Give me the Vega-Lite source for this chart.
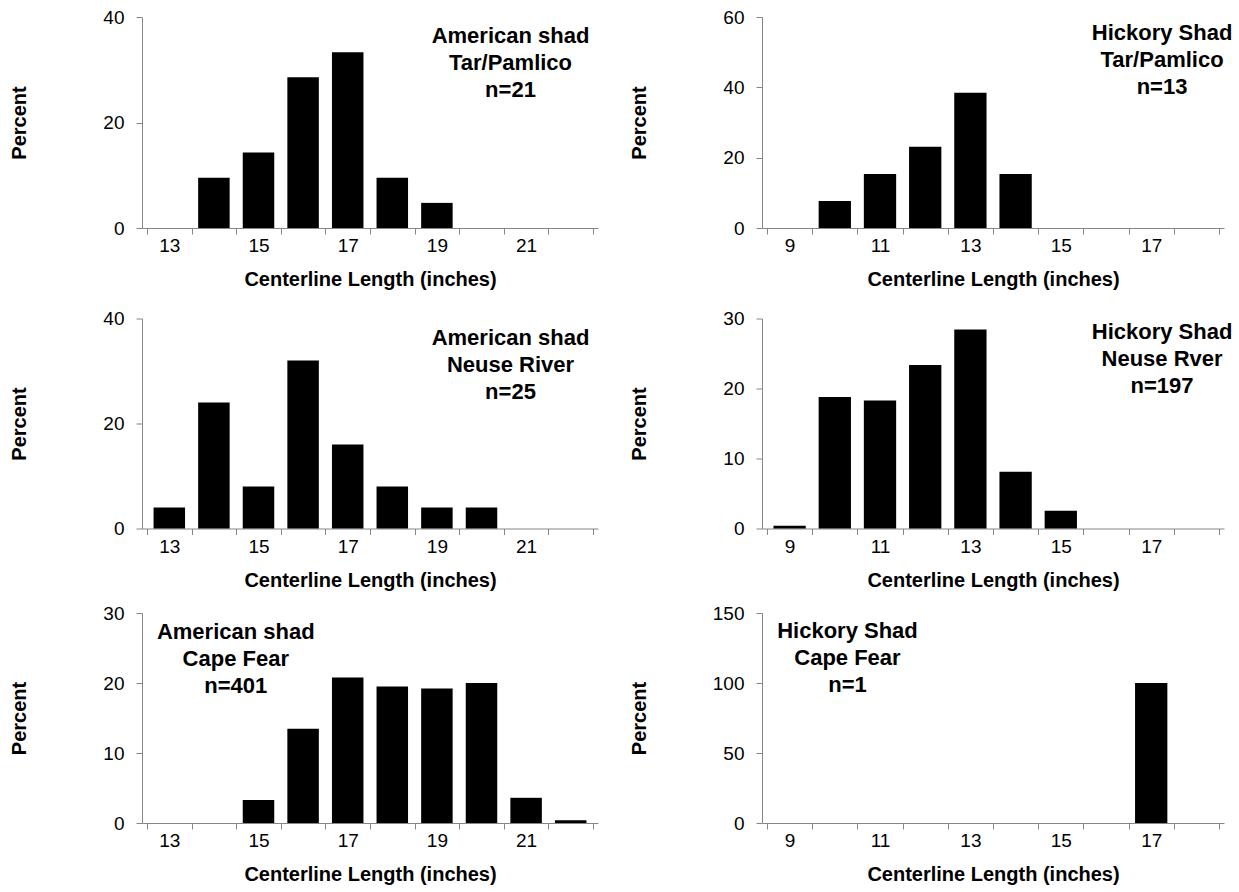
{
  "$schema": "https://vega.github.io/schema/vega-lite/v6.json",
  "padding": {"left": 9, "top": 8, "right": 5, "bottom": 5},
  "background": "white",
  "config": {
    "font": "Liberation Sans",
    "view": {"stroke": null},
    "axis": {
      "grid": false,
      "domainColor": "#868686",
      "tickColor": "#868686",
      "tickSize": 6,
      "labelFont": "Liberation Sans",
      "labelFontSize": 19,
      "labelColor": "#000000",
      "titleFont": "Liberation Sans",
      "titleFontSize": 20,
      "titleFontWeight": "bold",
      "titleColor": "#000000"
    },
    "axisY": {"labelPadding": 12},
    "axisX": {"labelPadding": 2.5, "titlePadding": 14, "tickCount": 40, "labelOverlap": false, "labelFlush": false, "labelBound": false}
  },
  "datasets": {
    "am_tar": [
      {"len": 13, "pct": 0}, {"len": 14, "pct": 9.52}, {"len": 15, "pct": 14.29}, {"len": 16, "pct": 28.57},
      {"len": 17, "pct": 33.33}, {"len": 18, "pct": 9.52}, {"len": 19, "pct": 4.76}, {"len": 20, "pct": 0},
      {"len": 21, "pct": 0}, {"len": 22, "pct": 0}
    ],
    "hk_tar": [
      {"len": 9, "pct": 0}, {"len": 10, "pct": 7.69}, {"len": 11, "pct": 15.38}, {"len": 12, "pct": 23.08},
      {"len": 13, "pct": 38.46}, {"len": 14, "pct": 15.38}, {"len": 15, "pct": 0}, {"len": 16, "pct": 0},
      {"len": 17, "pct": 0}, {"len": 18, "pct": 0}
    ],
    "am_neu": [
      {"len": 13, "pct": 4}, {"len": 14, "pct": 24}, {"len": 15, "pct": 8}, {"len": 16, "pct": 32},
      {"len": 17, "pct": 16}, {"len": 18, "pct": 8}, {"len": 19, "pct": 4}, {"len": 20, "pct": 4},
      {"len": 21, "pct": 0}, {"len": 22, "pct": 0}
    ],
    "hk_neu": [
      {"len": 9, "pct": 0.4}, {"len": 10, "pct": 18.78}, {"len": 11, "pct": 18.27}, {"len": 12, "pct": 23.35},
      {"len": 13, "pct": 28.43}, {"len": 14, "pct": 8.12}, {"len": 15, "pct": 2.54}, {"len": 16, "pct": 0},
      {"len": 17, "pct": 0}, {"len": 18, "pct": 0}
    ],
    "am_cape": [
      {"len": 13, "pct": 0}, {"len": 14, "pct": 0}, {"len": 15, "pct": 3.3}, {"len": 16, "pct": 13.47},
      {"len": 17, "pct": 20.8}, {"len": 18, "pct": 19.5}, {"len": 19, "pct": 19.2}, {"len": 20, "pct": 20.0},
      {"len": 21, "pct": 3.6}, {"len": 22, "pct": 0.4}
    ],
    "hk_cape": [
      {"len": 9, "pct": 0}, {"len": 10, "pct": 0}, {"len": 11, "pct": 0}, {"len": 12, "pct": 0},
      {"len": 13, "pct": 0}, {"len": 14, "pct": 0}, {"len": 15, "pct": 0}, {"len": 16, "pct": 0},
      {"len": 17, "pct": 100}, {"len": 18, "pct": 0}
    ]
  },
  "vconcat": [
    {
      "hconcat": [
        {
          "width": 456, "height": 211,
          "layer": [
            {
              "data": {"name": "am_tar"},
              "mark": {"type": "bar", "color": "#000000", "width": 31.5},
              "encoding": {
                "x": {"field": "len", "type": "quantitative",
                  "scale": {"domain": [12.5, 22.5], "nice": false, "zero": false},
                  "axis": {"values": [12.5,13,13.5,14,14.5,15,15.5,16,16.5,17,17.5,18,18.5,19,19.5,20,20.5,21,21.5,22,22.5],
                    "title": "Centerline Length (inches)",
                    "labelExpr": "abs(datum.value % 2 - 1) < 0.01 ? format(datum.value, 'd') : ''",
                    "tickOpacity": {"condition": {"test": "datum.value % 1 !== 0", "value": 1}, "value": 0}}},
                "y": {"field": "pct", "type": "quantitative",
                  "scale": {"domain": [0, 40], "nice": false},
                  "axis": {"values": [0, 20, 40], "title": "Percent", "titlePadding": 73.5}}
              }
            },
            {
              "data": {"values": [{"t": ["American shad", "Tar/Pamlico", "n=21"]}]},
              "mark": {"type": "text", "font": "Liberation Sans", "fontSize": 22, "fontWeight": "bold", "align": "center", "baseline": "top", "lineHeight": 27, "color": "#000000"},
              "encoding": {"x": {"datum": 20.65}, "y": {"datum": 38.2}, "text": {"field": "t"}}
            }
          ]
        },
        {
          "width": 462, "height": 211,
          "layer": [
            {
              "data": {"name": "hk_tar"},
              "mark": {"type": "bar", "color": "#000000", "width": 32.3},
              "encoding": {
                "x": {"field": "len", "type": "quantitative",
                  "scale": {"domain": [8.5, 18.5], "nice": false, "zero": false},
                  "axis": {"values": [8.5,9,9.5,10,10.5,11,11.5,12,12.5,13,13.5,14,14.5,15,15.5,16,16.5,17,17.5,18,18.5],
                    "title": "Centerline Length (inches)",
                    "labelExpr": "abs(datum.value % 2 - 1) < 0.01 ? format(datum.value, 'd') : ''",
                    "tickOpacity": {"condition": {"test": "datum.value % 1 !== 0", "value": 1}, "value": 0}}},
                "y": {"field": "pct", "type": "quantitative",
                  "scale": {"domain": [0, 60], "nice": false},
                  "axis": {"values": [0, 20, 40, 60], "title": "Percent", "titlePadding": 73.5}}
              }
            },
            {
              "data": {"values": [{"t": ["Hickory Shad", "Tar/Pamlico", "n=13"]}]},
              "mark": {"type": "text", "font": "Liberation Sans", "fontSize": 22, "fontWeight": "bold", "align": "center", "baseline": "top", "lineHeight": 27, "color": "#000000"},
              "encoding": {"x": {"datum": 17.24}, "y": {"datum": 58.4}, "text": {"field": "t"}}
            }
          ]
        }
      ],
      "spacing": 31
    },
    {
      "vconcat": [
        {
          "hconcat": [
            {
              "width": 456, "height": 210,
              "layer": [
                {
                  "data": {"name": "am_neu"},
                  "mark": {"type": "bar", "color": "#000000", "width": 31.5},
                  "encoding": {
                    "x": {"field": "len", "type": "quantitative",
                      "scale": {"domain": [12.5, 22.5], "nice": false, "zero": false},
                      "axis": {"values": [12.5,13,13.5,14,14.5,15,15.5,16,16.5,17,17.5,18,18.5,19,19.5,20,20.5,21,21.5,22,22.5],
                        "title": "Centerline Length (inches)",
                        "labelExpr": "abs(datum.value % 2 - 1) < 0.01 ? format(datum.value, 'd') : ''",
                        "tickOpacity": {"condition": {"test": "datum.value % 1 !== 0", "value": 1}, "value": 0}}},
                    "y": {"field": "pct", "type": "quantitative",
                      "scale": {"domain": [0, 40], "nice": false},
                      "axis": {"values": [0, 20, 40], "title": "Percent", "titlePadding": 73.5}}
                  }
                },
                {
                  "data": {"values": [{"t": ["American shad", "Neuse River", "n=25"]}]},
                  "mark": {"type": "text", "font": "Liberation Sans", "fontSize": 22, "fontWeight": "bold", "align": "center", "baseline": "top", "lineHeight": 27, "color": "#000000"},
                  "encoding": {"x": {"datum": 20.65}, "y": {"datum": 38.2}, "text": {"field": "t"}}
                }
              ]
            },
            {
              "width": 462, "height": 210,
              "layer": [
                {
                  "data": {"name": "hk_neu"},
                  "mark": {"type": "bar", "color": "#000000", "width": 32.3},
                  "encoding": {
                    "x": {"field": "len", "type": "quantitative",
                      "scale": {"domain": [8.5, 18.5], "nice": false, "zero": false},
                      "axis": {"values": [8.5,9,9.5,10,10.5,11,11.5,12,12.5,13,13.5,14,14.5,15,15.5,16,16.5,17,17.5,18,18.5],
                        "title": "Centerline Length (inches)",
                        "labelExpr": "abs(datum.value % 2 - 1) < 0.01 ? format(datum.value, 'd') : ''",
                        "tickOpacity": {"condition": {"test": "datum.value % 1 !== 0", "value": 1}, "value": 0}}},
                    "y": {"field": "pct", "type": "quantitative",
                      "scale": {"domain": [0, 30], "nice": false},
                      "axis": {"values": [0, 10, 20, 30], "title": "Percent", "titlePadding": 73.5}}
                  }
                },
                {
                  "data": {"values": [{"t": ["Hickory Shad", "Neuse Rver", "n=197"]}]},
                  "mark": {"type": "text", "font": "Liberation Sans", "fontSize": 22, "fontWeight": "bold", "align": "center", "baseline": "top", "lineHeight": 27, "color": "#000000"},
                  "encoding": {"x": {"datum": 17.24}, "y": {"datum": 29.43}, "text": {"field": "t"}}
                }
              ]
            }
          ],
          "spacing": 31
        },
        {
          "hconcat": [
            {
              "width": 456, "height": 210,
              "layer": [
                {
                  "data": {"name": "am_cape"},
                  "mark": {"type": "bar", "color": "#000000", "width": 31.5},
                  "encoding": {
                    "x": {"field": "len", "type": "quantitative",
                      "scale": {"domain": [12.5, 22.5], "nice": false, "zero": false},
                      "axis": {"values": [12.5,13,13.5,14,14.5,15,15.5,16,16.5,17,17.5,18,18.5,19,19.5,20,20.5,21,21.5,22,22.5],
                        "title": "Centerline Length (inches)",
                        "labelExpr": "abs(datum.value % 2 - 1) < 0.01 ? format(datum.value, 'd') : ''",
                        "tickOpacity": {"condition": {"test": "datum.value % 1 !== 0", "value": 1}, "value": 0}}},
                    "y": {"field": "pct", "type": "quantitative",
                      "scale": {"domain": [0, 30], "nice": false},
                      "axis": {"values": [0, 10, 20, 30], "title": "Percent", "titlePadding": 73.5}}
                  }
                },
                {
                  "data": {"values": [{"t": ["American shad", "Cape Fear", "n=401"]}]},
                  "mark": {"type": "text", "font": "Liberation Sans", "fontSize": 22, "fontWeight": "bold", "align": "center", "baseline": "top", "lineHeight": 27, "color": "#000000"},
                  "encoding": {"x": {"datum": 14.49}, "y": {"datum": 28.66}, "text": {"field": "t"}}
                }
              ]
            },
            {
              "width": 462, "height": 210,
              "layer": [
                {
                  "data": {"name": "hk_cape"},
                  "mark": {"type": "bar", "color": "#000000", "width": 32.3},
                  "encoding": {
                    "x": {"field": "len", "type": "quantitative",
                      "scale": {"domain": [8.5, 18.5], "nice": false, "zero": false},
                      "axis": {"values": [8.5,9,9.5,10,10.5,11,11.5,12,12.5,13,13.5,14,14.5,15,15.5,16,16.5,17,17.5,18,18.5],
                        "title": "Centerline Length (inches)",
                        "labelExpr": "abs(datum.value % 2 - 1) < 0.01 ? format(datum.value, 'd') : ''",
                        "tickOpacity": {"condition": {"test": "datum.value % 1 !== 0", "value": 1}, "value": 0}}},
                    "y": {"field": "pct", "type": "quantitative",
                      "scale": {"domain": [0, 150], "nice": false},
                      "axis": {"values": [0, 50, 100, 150], "title": "Percent", "titlePadding": 63}}
                  }
                },
                {
                  "data": {"values": [{"t": ["Hickory Shad", "Cape Fear", "n=1"]}]},
                  "mark": {"type": "text", "font": "Liberation Sans", "fontSize": 22, "fontWeight": "bold", "align": "center", "baseline": "top", "lineHeight": 27, "color": "#000000"},
                  "encoding": {"x": {"datum": 10.28}, "y": {"datum": 144.5}, "text": {"field": "t"}}
                }
              ]
            }
          ],
          "spacing": 31
        }
      ],
      "spacing": 13.5
    }
  ],
  "spacing": 19.5
}
